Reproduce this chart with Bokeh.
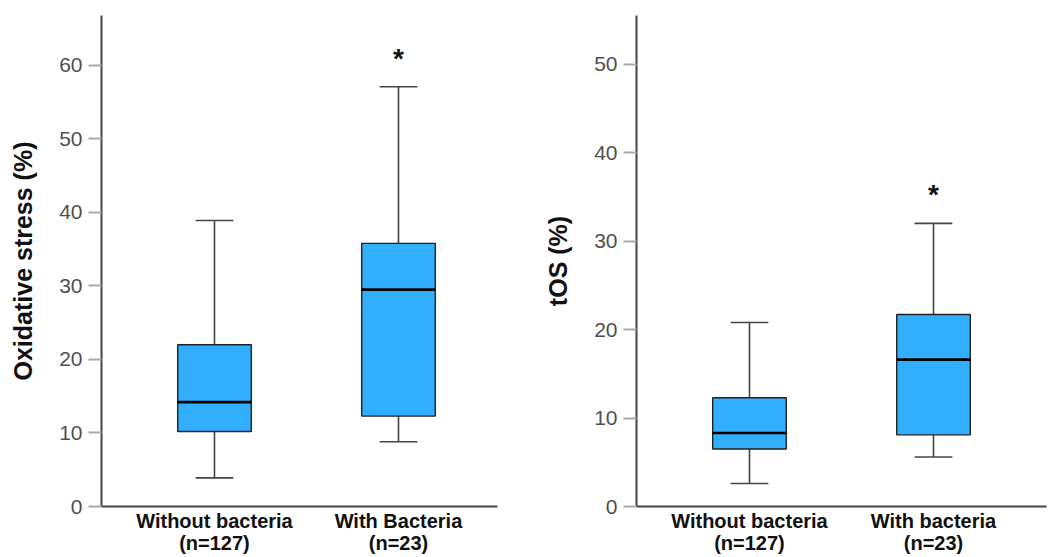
from bokeh.plotting import figure
from bokeh.layouts import row
from bokeh.models import Range1d, FixedTicker, ColumnDataSource
from bokeh.embed import file_html
from bokeh.resources import INLINE

# ---- data ----
groups_left = ["Without bacteria\n(n=127)", "With Bacteria\n(n=23)"]
groups_right = ["Without bacteria\n(n=127)", "With bacteria\n(n=23)"]
xpos = [1, 2]

os_low = [3.9, 8.8]
os_q1 = [10.2, 12.3]
os_med = [14.2, 29.5]
os_q3 = [22.0, 35.8]
os_high = [38.9, 57.1]
os_star = [None, 61.0]

tos_low = [2.6, 5.6]
tos_q1 = [6.5, 8.1]
tos_med = [8.3, 16.6]
tos_q3 = [12.3, 21.7]
tos_high = [20.8, 32.0]
tos_star = [None, 35.3]

BOX_W = 0.40
CAP_W = 0.205
FILL = "#32aefe"
FONT = "Liberation Sans"


def make_panel(labels, low, q1, med, q3, high, star, ylabel, ymax, yticks,
               xr, width, mbl, mbr):
    p = figure(width=width, height=557, output_backend="svg", toolbar_location=None,
               x_range=Range1d(*xr), y_range=Range1d(0, ymax),
               min_border_left=mbl, min_border_right=mbr,
               min_border_top=15, min_border_bottom=51)
    p.outline_line_color = None
    p.xgrid.visible = False
    p.ygrid.visible = False
    p.background_fill_color = "white"
    p.border_fill_color = "white"

    src = ColumnDataSource(dict(
        x=xpos, low=low, q1=q1, med=med, q3=q3, high=high,
        cl=[x - CAP_W / 2 for x in xpos], cr=[x + CAP_W / 2 for x in xpos],
        bl=[x - BOX_W / 2 for x in xpos], br=[x + BOX_W / 2 for x in xpos],
    ))
    # whiskers
    p.segment(x0="x", y0="q3", x1="x", y1="high", source=src, line_color="#444444", line_width=1.6)
    p.segment(x0="x", y0="q1", x1="x", y1="low", source=src, line_color="#444444", line_width=1.6)
    p.segment(x0="cl", y0="high", x1="cr", y1="high", source=src, line_color="#444444", line_width=1.6)
    p.segment(x0="cl", y0="low", x1="cr", y1="low", source=src, line_color="#444444", line_width=1.6)
    # boxes
    p.vbar(x="x", width=BOX_W, bottom="q1", top="q3", source=src,
           fill_color=FILL, line_color="#222222", line_width=1.4)
    # medians
    p.segment(x0="bl", y0="med", x1="br", y1="med", source=src, line_color="black", line_width=2.6)

    # significance stars
    sx = [x for x, s in zip(xpos, star) if s is not None]
    sy = [s for s in star if s is not None]
    p.text(x=sx, y=sy, text=["*"] * len(sx), text_align="center", text_baseline="middle",
           text_font_size="28px", text_font_style="bold", text_color="#111111")

    # y axis
    ya = p.yaxis[0]
    ya.ticker = FixedTicker(ticks=yticks)
    ya.axis_line_color = "#444444"
    ya.axis_line_width = 2
    ya.major_tick_line_color = "#aaaaaa"
    ya.major_tick_line_width = 2
    ya.major_tick_out = 13
    ya.major_tick_in = 0
    ya.minor_tick_line_color = None
    ya.major_label_text_font = FONT
    ya.major_label_text_font_size = "21px"
    ya.major_label_text_color = "#505050"
    ya.major_label_standoff = 6
    ya.axis_label = ylabel
    ya.axis_label_text_font = FONT
    ya.axis_label_text_font_style = "bold"
    ya.axis_label_text_font_size = "25px"
    ya.axis_label_text_color = "#111111"
    ya.axis_label_standoff = 19

    # x axis
    xa = p.xaxis[0]
    xa.ticker = FixedTicker(ticks=xpos)
    xa.major_label_overrides = {x: l for x, l in zip(xpos, labels)}
    xa.axis_line_color = "#444444"
    xa.axis_line_width = 2
    xa.major_tick_line_color = None
    xa.major_tick_out = 0
    xa.minor_tick_line_color = None
    xa.major_label_text_font = FONT
    xa.major_label_text_font_style = "bold"
    xa.major_label_text_font_size = "20px"
    xa.major_label_text_line_height = 1.0
    xa.major_label_text_color = "#111111"
    xa.major_label_standoff = 3
    return p


p1 = make_panel(groups_left, os_low, os_q1, os_med, os_q3, os_high, os_star,
                "Oxidative stress (%)", 66.8, [0, 10, 20, 30, 40, 50, 60],
                (0.386, 2.538), 535, 101, 38)
p2 = make_panel(groups_right, tos_low, tos_q1, tos_med, tos_q3, tos_high, tos_star,
                "tOS (%)", 55.5, [0, 10, 20, 30, 40, 50],
                (0.386, 2.614), 516, 101, 5)

layout = row(p1, p2)
open("out.html", "w").write(file_html(layout, INLINE))
